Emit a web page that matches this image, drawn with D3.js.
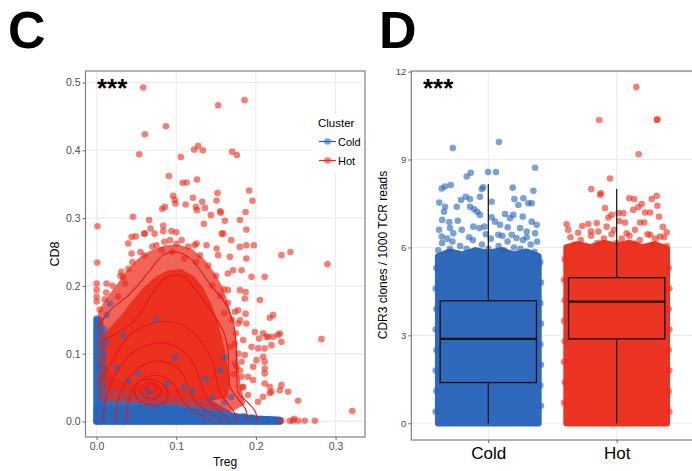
<!DOCTYPE html>
<html>
<head>
<meta charset="utf-8">
<script src="https://cdn.jsdelivr.net/npm/d3@7"></script>
<style>
body { margin: 0; background: #fff; }
text { font-family: Arial, "Liberation Sans", sans-serif; }
</style>
</head>
<body>
<svg id="fig" width="692" height="471"></svg>
<script>

////////////  panel C : Treg vs CD8

var cTicksX = [0, 0.1, 0.2, 0.3];
var cTicksY = [0, 0.1, 0.2, 0.3, 0.4, 0.5];

// dense cold cloud (treg, cd8)
var coldCloudC = [[0,0],[0,0.15],[0.004,0.15],[0.005,0.12],[0.007,0.09],[0.012,0.07],[0.02,0.06],[0.035,0.055],[0.05,0.05],[0.07,0.046],[0.09,0.043],[0.11,0.04],[0.13,0.033],[0.145,0.025],[0.158,0.016],[0.17,0.008],[0.2,0.004],[0.23,0.002],[0.23,0]];
var coldBandC = [[0,0],[0,0.018],[0.05,0.02],[0.1,0.018],[0.14,0.012],[0.16,0.006],[0.23,0.002],[0.23,0]];
var coldColumnC = [[0,0],[0,0.145],[0.006,0.14],[0.008,0.06],[0.006,0]];

// hot cloud, outer (overlapping points) and core
var hotHaloC = [[0.006,0.035],[0.006,0.16],[0.015,0.178],[0.028,0.198],[0.04,0.218],[0.055,0.237],[0.07,0.248],[0.087,0.255],[0.102,0.256],[0.118,0.25],[0.132,0.236],[0.145,0.216],[0.155,0.195],[0.162,0.17],[0.168,0.14],[0.172,0.11],[0.174,0.08],[0.177,0.05],[0.182,0.028],[0.17,0.02],[0.15,0.022],[0.12,0.028],[0.09,0.03],[0.06,0.032],[0.03,0.035]];
var hotCoreC = [[0.008,0.055],[0.008,0.12],[0.02,0.135],[0.033,0.152],[0.046,0.172],[0.06,0.192],[0.075,0.208],[0.09,0.218],[0.105,0.22],[0.12,0.21],[0.13,0.195],[0.14,0.172],[0.148,0.146],[0.155,0.115],[0.16,0.085],[0.163,0.055],[0.16,0.038],[0.14,0.036],[0.12,0.04],[0.09,0.042],[0.06,0.046],[0.035,0.05]];

var coldPtsC = [[0.0167,0.174],[0.0125,0.157],[0.075,0.150],[0.0,0.152],[0.0334,0.127],[0.0125,0.117],[0.098,0.095],[0.161,0.095],[0.155,0.0757],[0.169,0.036],[0.052,0.071],[0.088,0.056],[0.136,0.063],[0.04,0.06],[0.065,0.045],[0.11,0.05],[0.12,0.045],[0.025,0.08],[0.145,0.035],[0.16,0.028],[0.185,0.008],[0.195,0.006],[0.215,0.003],[0.225,0.002],[0.008,0.1],[0.01,0.135],[0.004,0.08]];

var hotPtsC = [[0.0585,0.4926],[0.1526,0.4665],[0.1857,0.474],[0.087,0.4355],[0.0606,0.4237],[0.0535,0.394],[0.1225,0.401],[0.1275,0.4065],[0.1334,0.400],[0.170,0.398],[0.176,0.393],[0.1058,0.390],[0.0907,0.362],[0.108,0.352],[0.113,0.3525],[0.126,0.357],[0.1915,0.3407],[0.1957,0.3254],[0.1518,0.337],[0.1506,0.326],[0.096,0.333],[0.098,0.327],[0.099,0.3215],[0.0857,0.3165],[0.0823,0.3136],[0.121,0.330],[0.1325,0.324],[0.1117,0.320],[0.136,0.315],[0.1246,0.3165],[0.126,0.3117],[0.1434,0.3043],[0.155,0.310],[0.156,0.308],[0.187,0.309],[0.180,0.297],[0.188,0.283],[0.161,0.296],[0.1346,0.2915],[0.159,0.277],[0.001,0.288],[0.0455,0.302],[0.066,0.297],[0.0677,0.2847],[0.0597,0.277],[0.0728,0.277],[0.0836,0.2885],[0.0836,0.2807],[0.094,0.2807],[0.100,0.279],[0.044,0.272],[0.049,0.273],
  [0.0008,0.2345],[0.0,0.2035],[0.0,0.194],[0.0,0.184],[0.0,0.177],[0.0125,0.2035],[0.031,0.2206],[0.0334,0.213],[0.0355,0.2035],[0.027,0.184],[0.0397,0.2625],[0.0439,0.2478],[0.0606,0.2773],[0.075,0.26],[0.0815,0.2527],[0.092,0.2674],[0.1067,0.2674],[0.123,0.26],[0.1255,0.2625],[0.138,0.260],[0.1506,0.2552],[0.1526,0.2453],[0.157,0.277],[0.169,0.2674],[0.1673,0.2428],[0.1798,0.2575],[0.188,0.260],[0.1974,0.260],[0.188,0.2404],[0.1714,0.223],[0.1647,0.2183],[0.182,0.223],[0.1945,0.2133],[0.211,0.2133],[0.180,0.1937],[0.165,0.1937],[0.187,0.191],[0.186,0.1814],[0.205,0.179],[0.1735,0.1617],[0.1777,0.164],[0.187,0.159],[0.180,0.149],[0.188,0.1445],[0.1777,0.1445],[0.1986,0.132],[0.209,0.130],[0.2174,0.153],[0.2216,0.1568],[0.204,0.1224],[0.2133,0.1248],[0.2216,0.1248],[0.230,0.1298],[0.232,0.1174],[0.2153,0.1248],[0.1735,0.115],[0.184,0.12],[0.1945,0.11],[0.186,0.0978],[0.2028,0.1077],[0.211,0.1077],[0.2195,0.1125],[0.2278,0.1274],[0.232,0.2453],[0.2434,0.250],[0.2898,0.232],[0.2823,0.1214],[0.209,0.0953],[0.2007,0.0904],[0.211,0.088],[0.1965,0.0805],[0.211,0.0708],[0.2174,0.051],[0.2195,0.0437],[0.230,0.046],[0.2404,0.0437],[0.253,0.0304],[0.190,0.0658],[0.1965,0.061],[0.184,0.051],[0.190,0.0388],[0.209,0.0363],[0.1757,0.0805],[0.182,0.0658],[0.1735,0.0855],[0.182,0.088],[0.211,0.078],[0.211,0.056],[0.2174,0.042],[0.232,0.0535],[0.2028,0.029],
  [0.232,0.001],[0.2425,0.001],[0.2467,0.001],[0.248,0.004],[0.253,0.001],[0.2614,0.001],[0.274,0.001],[0.321,0.0152],
  // edge of the hot cloud
  [0.02,0.2],[0.03,0.215],[0.045,0.235],[0.055,0.25],[0.07,0.258],[0.085,0.265],[0.1,0.262],[0.115,0.258],[0.13,0.245],[0.14,0.23],[0.15,0.215],[0.16,0.195],[0.165,0.175],[0.17,0.15],[0.175,0.13],[0.178,0.1],[0.18,0.075],[0.183,0.05],[0.01,0.18],[0.06,0.245],[0.095,0.25],[0.125,0.235],[0.145,0.2],[0.16,0.16],[0.168,0.11],[0.172,0.07],[0.004,0.165],[0.012,0.19],[0.04,0.225],[0.11,0.24],[0.155,0.185]];

// density contours of the hot cluster, open ones run to the bottom
var hotContours = [
  [[0.002,0.140],[0.017,0.164],[0.038,0.184],[0.054,0.204],[0.067,0.223],[0.083,0.245],[0.100,0.250],[0.117,0.241],[0.130,0.223],[0.146,0.197],[0.159,0.179],[0.171,0.149],[0.175,0.116],[0.176,0.066],[0.178,0.042],[0.188,0.030],[0.199,0.015],[0.202,0.0]],
  [[0.003,0.117],[0.025,0.130],[0.046,0.147],[0.058,0.166],[0.071,0.190],[0.083,0.209],[0.097,0.216],[0.111,0.213],[0.122,0.197],[0.136,0.176],[0.150,0.152],[0.160,0.130],[0.165,0.105],[0.166,0.075],[0.168,0.050],[0.177,0.034],[0.187,0.018],[0.190,0.0]],
  [[0.002,0.058],[0.010,0.070],[0.020,0.090],[0.030,0.110],[0.042,0.128],[0.058,0.140],[0.075,0.146],[0.092,0.147],[0.108,0.142],[0.122,0.130],[0.135,0.112],[0.145,0.090],[0.150,0.065],[0.154,0.045],[0.163,0.028],[0.173,0.013],[0.177,0.0]],
  [[0.008,0.0],[0.009,0.015],[0.013,0.040],[0.020,0.062],[0.032,0.085],[0.046,0.102],[0.062,0.112],[0.080,0.116],[0.097,0.112],[0.112,0.100],[0.123,0.082],[0.130,0.060],[0.136,0.040],[0.146,0.024],[0.160,0.010],[0.167,0.0]],
  [[0.024,0.0],[0.025,0.018],[0.029,0.040],[0.037,0.060],[0.049,0.076],[0.064,0.086],[0.080,0.089],[0.095,0.084],[0.107,0.072],[0.114,0.055],[0.120,0.037],[0.130,0.022],[0.146,0.010],[0.157,0.0]],
  [[0.037,0.0],[0.038,0.015],[0.041,0.034],[0.048,0.052],[0.060,0.064],[0.075,0.068],[0.089,0.063],[0.099,0.051],[0.105,0.036],[0.114,0.022],[0.130,0.010],[0.146,0.0]]
];
var hotRings = [
  [[0.047,0.048],[0.052,0.058],[0.064,0.062],[0.077,0.059],[0.087,0.050],[0.090,0.038],[0.084,0.028],[0.071,0.024],[0.057,0.028],[0.049,0.037]],
  [[0.055,0.048],[0.060,0.055],[0.069,0.057],[0.078,0.053],[0.081,0.045],[0.077,0.036],[0.068,0.033],[0.059,0.037]],
  [[0.061,0.049],[0.065,0.054],[0.071,0.055],[0.075,0.050],[0.072,0.044],[0.065,0.043]]
];

////////////  panel D : CDR3 clones per group

var groups = ["Cold", "Hot"];
var dTicksY = [0, 3, 6, 9, 12];
var boxQ1 = [1.39, 2.88],
    boxMed = [2.88, 4.15],
    boxQ3 = [4.18, 4.97],
    whiskLo = [0, 0],
    whiskHi = [8.16, 7.99];

// dense part of the jittered points (jitter offset, value)
var coldCloudD = [[-0.39,0],[-0.39,5.7],[-0.3,5.85],[-0.2,5.75],[-0.1,5.9],[0.0,5.8],[0.1,5.9],[0.2,5.75],[0.3,5.85],[0.39,5.7],[0.39,0]];
var hotCloudD = [[-0.39,0],[-0.39,6.0],[-0.3,6.1],[-0.2,6.0],[-0.1,6.15],[0.0,6.05],[0.1,6.15],[0.2,6.0],[0.3,6.1],[0.39,5.95],[0.39,0]];

var coldPtsD = [[-0.277,9.39],[0.083,9.60],[0.364,8.72],[-0.002,8.57],[0.060,8.57],[-0.168,8.42],[-0.137,8.55],[-0.293,8.13],[-0.337,8.08],[-0.363,8.01],[-0.051,7.99],[-0.040,8.05],[0.19,8.04],[0.351,7.93],[-0.382,7.53],[-0.337,7.39],[-0.345,7.22],[-0.246,7.39],[-0.213,7.62],[-0.176,7.73],[-0.143,7.65],[-0.143,7.39],[-0.111,7.30],[-0.086,7.22],[-0.065,7.11],[-0.065,7.73],[0.026,7.56],[0.203,7.65],[0.234,7.45],[0.273,7.68],[0.312,7.51],[0.338,7.51],[0.13,7.14],[0.195,7.11],[0.169,7.00],[0.268,7.05],[-0.359,6.94],[-0.304,6.87],[-0.238,6.91],[-0.117,6.71],[-0.031,6.71],[0.026,7.03],[0.052,6.88],[0.091,6.77],[0.338,6.88],[0.377,6.77],[-0.384,6.60],[-0.298,6.66],[-0.273,6.48],[-0.207,6.60],[-0.07,6.66],[0.151,6.69],[0.247,6.66],[0.299,6.54],[0.364,6.48],[0.182,6.43],[0.078,6.43],[-0.363,6.37],[-0.15,6.35],[-0.02,6.45],[0.11,6.4],[0.3,6.35],[-0.32,6.3],[0.22,6.32],
  [-0.36,6.15],[-0.28,6.2],[-0.22,6.05],[-0.12,6.25],[-0.05,6.1],[0.02,6.3],[0.08,6.05],[0.15,6.2],[0.2,6.0],[0.27,6.25],[0.33,6.1],[0.38,6.2],[-0.39,5.9],[-0.3,5.95],[-0.17,5.95],[0.0,5.95],[0.12,5.9],[0.25,5.95],[0.36,5.85],
  [-0.405,5.3],[-0.41,4.6],[-0.405,3.9],[-0.41,3.2],[-0.405,2.5],[-0.41,1.8],[-0.405,1.1],[-0.41,0.4],[0.405,5.5],[0.41,4.8],[0.405,4.1],[0.41,3.4],[0.405,2.7],[0.41,2.0],[0.405,1.3],[0.41,0.6]];

var hotPtsD = [[0.153,11.47],[-0.136,10.35],[0.312,10.35],[0.318,10.37],[0.171,9.18],[-0.052,8.35],[-0.198,7.99],[-0.122,7.85],[-0.13,7.80],[-0.091,7.34],[-0.065,7.02],[-0.039,7.11],[0.098,7.68],[0.137,7.65],[0.129,7.28],[0.168,7.37],[0.195,7.48],[0.221,7.19],[0.26,7.19],[0.273,7.65],[0.312,7.76],[0.317,7.42],[0.33,7.05],[0.182,6.85],[0.215,6.85],[0.065,6.85],[0.052,7.17],[0.013,7.17],[-0.39,6.79],[-0.377,6.60],[-0.268,6.73],[-0.221,6.80],[-0.156,6.83],[-0.078,6.71],[-0.143,6.54],[0.39,6.52],[0.338,6.37],[0.26,6.43],[0.143,6.60],[0.078,6.48],[-0.3,6.5],[-0.02,6.6],[0.02,6.9],[-0.2,6.55],[0.36,6.7],
  [-0.36,6.35],[-0.28,6.25],[-0.2,6.4],[-0.1,6.3],[-0.04,6.45],[0.04,6.3],[0.1,6.4],[0.18,6.25],[0.24,6.45],[0.3,6.3],[0.37,6.35],[-0.33,6.1],[-0.15,6.15],[0.0,6.15],[0.14,6.12],[0.28,6.1],[0.39,6.05],
  [-0.405,5.6],[-0.41,4.9],[-0.405,4.2],[-0.41,3.5],[-0.405,2.8],[-0.41,2.1],[-0.405,1.4],[-0.41,0.7],[0.405,5.3],[0.41,4.6],[0.405,3.9],[0.41,3.2],[0.405,2.5],[0.41,1.8],[0.405,1.1],[0.41,0.4]];


var blue = "#2462b9",
    red = "#ec2a18",
    contourRed = "#e6141c",
    rad = 3.3;

var svg = d3.select("#fig");

/////////  panel letters
svg.append("text").attr("x", 8).attr("y", 48).attr("font-size", 52).attr("font-weight", "bold").text("C");
svg.append("text").attr("x", 379).attr("y", 48).attr("font-size", 52).attr("font-weight", "bold").text("D");


function styleAxis(g, size) {
    g.select(".domain").remove();
    g.selectAll(".tick line").attr("stroke", "#666");
    g.selectAll(".tick text").attr("fill", "#4d4d4d").attr("font-size", size)
        .attr("font-family", "Arial, 'Liberation Sans', sans-serif");
}

function cloud(g, pts, xf, yf, col, op) {
    g.append("path")
        .attr("d", d3.line().x(xf).y(yf).curve(d3.curveLinearClosed)(pts))
        .attr("fill", col)
        .attr("stroke", col)
        .attr("stroke-width", rad * 2)
        .attr("stroke-linejoin", "round")
        .attr("opacity", op);
}

////////////////////////////////////////  C

var cx = d3.scaleLinear().domain([-0.014, 0.337]).range([85.5, 365]);
var cy = d3.scaleLinear().domain([-0.023, 0.517]).range([437, 71]);
var gC = svg.append("g");

gC.selectAll(".gx").data(cTicksX).enter().append("line")
    .attr("x1", function(d) { return cx(d); }).attr("x2", function(d) { return cx(d); })
    .attr("y1", 71).attr("y2", 437).attr("stroke", "#ebebeb").attr("stroke-width", 1.1);
gC.selectAll(".gy").data(cTicksY).enter().append("line")
    .attr("y1", function(d) { return cy(d); }).attr("y2", function(d) { return cy(d); })
    .attr("x1", 85.5).attr("x2", 365).attr("stroke", "#ebebeb").attr("stroke-width", 1.1);

var fx = function(d) { return cx(d[0]); },
    fy = function(d) { return cy(d[1]); };

cloud(gC, coldCloudC, fx, fy, blue, 0.92);
cloud(gC, hotHaloC, fx, fy, red, 0.72);
cloud(gC, hotCoreC, fx, fy, red, 0.88);
cloud(gC, coldColumnC, fx, fy, blue, 0.45);
cloud(gC, coldBandC, fx, fy, blue, 0.6);

gC.selectAll(".hp").data(hotPtsC).enter().append("circle")
    .attr("cx", fx).attr("cy", fy).attr("r", rad)
    .attr("fill", red).attr("fill-opacity", 0.6);
gC.selectAll(".cp").data(coldPtsC).enter().append("circle")
    .attr("cx", fx).attr("cy", fy).attr("r", rad)
    .attr("fill", blue).attr("fill-opacity", 0.55);

var cLine = d3.line().x(fx).y(fy).curve(d3.curveCatmullRom);
var cRing = d3.line().x(fx).y(fy).curve(d3.curveCatmullRomClosed);
gC.selectAll(".ct").data(hotContours).enter().append("path")
    .attr("d", cLine).attr("fill", "none").attr("stroke", contourRed).attr("stroke-width", 1.1);
gC.selectAll(".rg").data(hotRings).enter().append("path")
    .attr("d", cRing).attr("fill", "none").attr("stroke", contourRed).attr("stroke-width", 1.1);

gC.append("rect").attr("x", 85.5).attr("y", 71).attr("width", 279.5).attr("height", 366)
    .attr("fill", "none").attr("stroke", "#808080").attr("stroke-width", 1.2);

gC.append("g").attr("transform", "translate(85.5,0)")
    .call(d3.axisLeft(cy).tickValues(cTicksY).tickSize(3).tickPadding(2).tickFormat(d3.format(".1f")))
    .call(styleAxis, 10.5);
gC.append("g").attr("transform", "translate(0,437)")
    .call(d3.axisBottom(cx).tickValues(cTicksX).tickSize(3).tickPadding(3).tickFormat(d3.format(".1f")))
    .call(styleAxis, 10.5);

gC.append("text").attr("x", 225).attr("y", 466).attr("text-anchor", "middle").attr("font-size", 12).text("Treg");
gC.append("text").attr("transform", "translate(59,254) rotate(-90)").attr("text-anchor", "middle").attr("font-size", 12.5).text("CD8");

gC.append("text").attr("x", 97).attr("y", 97).attr("font-size", 26).attr("font-weight", "bold").text("***");

// legend
var leg = gC.append("g");
leg.append("rect").attr("x", 312).attr("y", 113).attr("width", 50).attr("height", 59).attr("fill", "#fff");
leg.append("text").attr("x", 318).attr("y", 127).attr("font-size", 11.5).text("Cluster");
var legItems = [{ name: "Cold", col: blue }, { name: "Hot", col: red }];
leg.selectAll(".li").data(legItems).enter().append("line")
    .attr("x1", 319).attr("x2", 336)
    .attr("y1", function(d, i) { return 141.5 + i * 19; }).attr("y2", function(d, i) { return 141.5 + i * 19; })
    .attr("stroke", function(d) { return d.col; }).attr("stroke-width", 1.2);
leg.selectAll(".lc").data(legItems).enter().append("circle")
    .attr("cx", 327.5).attr("cy", function(d, i) { return 141.5 + i * 19; }).attr("r", rad)
    .attr("fill", function(d) { return d.col; }).attr("fill-opacity", 0.6);
leg.selectAll(".lt").data(legItems).enter().append("text")
    .attr("x", 338).attr("y", function(d, i) { return 145.5 + i * 19; })
    .attr("font-size", 11).text(function(d) { return d.name; });

////////////////////////////////////////  D

var dx = d3.scalePoint().domain(groups).range([411.3, 693.7]).padding(0.6);
var dy = d3.scaleLinear().domain([-0.57, 12.02]).range([440, 71]);
var step = dx.step();
var gD = svg.append("g");

gD.selectAll(".gx").data(groups).enter().append("line")
    .attr("x1", function(d) { return dx(d); }).attr("x2", function(d) { return dx(d); })
    .attr("y1", 71).attr("y2", 440).attr("stroke", "#ebebeb").attr("stroke-width", 1.1);
gD.selectAll(".gy").data(dTicksY).enter().append("line")
    .attr("y1", function(d) { return dy(d); }).attr("y2", function(d) { return dy(d); })
    .attr("x1", 411.3).attr("x2", 693.7).attr("stroke", "#ebebeb").attr("stroke-width", 1.1);

var sets = [
    { g: "Cold", col: blue, cloud: coldCloudD, pts: coldPtsD },
    { g: "Hot", col: red, cloud: hotCloudD, pts: hotPtsD }
];

sets.forEach(function(s) {
    var px = function(d) { return dx(s.g) + d[0] * step; },
        py = function(d) { return dy(d[1]); };
    cloud(gD, s.cloud, px, py, s.col, 0.95);
    gD.selectAll(".p" + s.g).data(s.pts).enter().append("circle")
        .attr("cx", px).attr("cy", py).attr("r", rad)
        .attr("fill", s.col).attr("fill-opacity", 0.6);
});

// boxes
var bw = step * 0.75;
groups.forEach(function(g, i) {
    var x0 = dx(g);
    gD.append("line").attr("x1", x0).attr("x2", x0).attr("y1", dy(boxQ3[i])).attr("y2", dy(whiskHi[i]))
        .attr("stroke", "#111").attr("stroke-width", 1.2);
    gD.append("line").attr("x1", x0).attr("x2", x0).attr("y1", dy(boxQ1[i])).attr("y2", dy(whiskLo[i]))
        .attr("stroke", "#111").attr("stroke-width", 1.2);
    gD.append("rect").attr("x", x0 - bw / 2).attr("width", bw)
        .attr("y", dy(boxQ3[i])).attr("height", dy(boxQ1[i]) - dy(boxQ3[i]))
        .attr("fill", "none").attr("stroke", "#111").attr("stroke-width", 1.3);
    gD.append("line").attr("x1", x0 - bw / 2).attr("x2", x0 + bw / 2)
        .attr("y1", dy(boxMed[i])).attr("y2", dy(boxMed[i]))
        .attr("stroke", "#111").attr("stroke-width", 2.2);
});

gD.append("rect").attr("x", 411.3).attr("y", 71).attr("width", 282.4).attr("height", 369)
    .attr("fill", "none").attr("stroke", "#808080").attr("stroke-width", 1.2);

gD.append("g").attr("transform", "translate(411.3,0)")
    .call(d3.axisLeft(dy).tickValues(dTicksY).tickSize(3).tickPadding(2))
    .call(styleAxis, 9.5);
var axD = gD.append("g").attr("transform", "translate(0,440)")
    .call(d3.axisBottom(dx).tickSize(3).tickPadding(4));
axD.call(styleAxis, 17);
axD.selectAll(".tick text").attr("fill", "#000");

gD.append("text").attr("transform", "translate(387,255) rotate(-90)").attr("text-anchor", "middle")
    .attr("font-size", 12).text("CDR3 clones / 1000 TCR reads");

gD.append("text").attr("x", 423).attr("y", 97).attr("font-size", 26).attr("font-weight", "bold").text("***");

</script>
</body>
</html>
